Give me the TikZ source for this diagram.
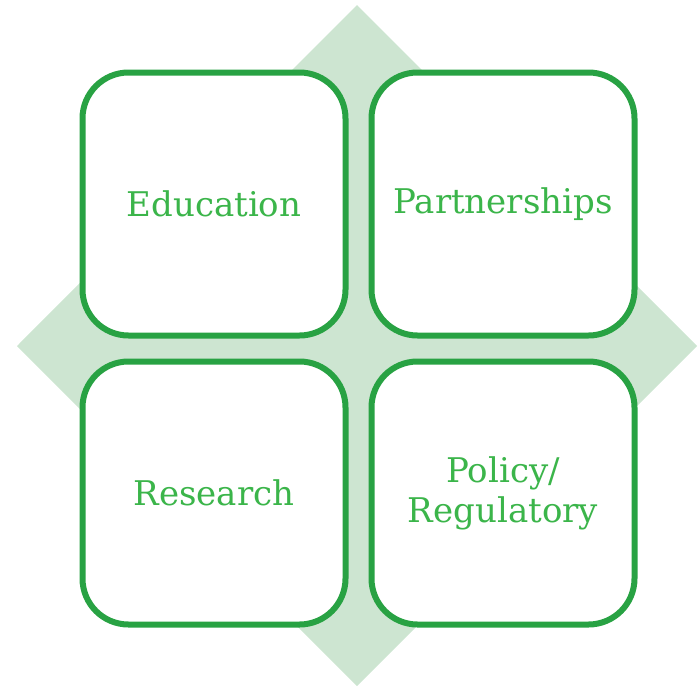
\documentclass[tikz,border=0pt]{standalone}
\usepackage{fontspec}
\setmainfont{DejaVu Serif}
\usetikzlibrary{positioning}
\definecolor{leaf}{HTML}{28A243}
\definecolor{leaftext}{HTML}{3BB54A}
\definecolor{pale}{HTML}{CDE5D1}

\begin{document}
\begin{tikzpicture}[x=1pt,y=-1pt]
\useasboundingbox (0,0) rectangle (699,686);

% Diamond behind the four boxes
\fill[pale] (357,5) -- (697,346) -- (357,686) -- (17,346) -- cycle;

% Four rounded boxes
\tikzset{pillar/.style={draw=leaf, line width=6pt, fill=white, rounded corners=46pt,
    minimum width=263pt, minimum height=263pt, inner sep=0pt, align=center,
    text=leaftext, font=\fontsize{34}{40}\selectfont}}

\node[pillar] (edu) at (214,204) {Education};
\node[pillar, right=20pt of edu] (part) {Partnerships};
\node[pillar, below=20pt of edu] (res) {Research};
\node[pillar, below=20pt of part] (pol) {Policy/\\Regulatory};

\end{tikzpicture}
\end{document}
